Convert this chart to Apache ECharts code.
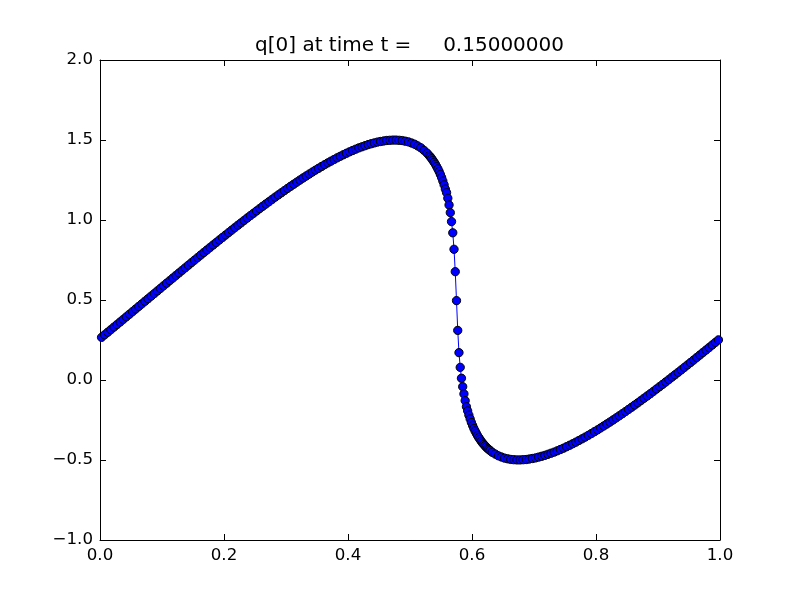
<!DOCTYPE html>
<html>
<head>
<meta charset="utf-8">
<script src="https://cdn.jsdelivr.net/npm/echarts@6/dist/echarts.min.js"></script>
<style>html,body{margin:0;padding:0;background:#fff}#c{width:800px;height:600px}</style>
</head>
<body>
<div id="c"></div>
<script>
const titleText = 'q[0] at time t =     0.15000000';
const xTickValues = [0.0, 0.2, 0.4, 0.6, 0.8, 1.0];
const yTickValues = [-1.0, -0.5, 0.0, 0.5, 1.0, 1.5, 2.0];

const xs = [
0.0025,0.0075,0.0125,0.0175,0.0225,0.0275,0.0325,0.0375,0.0425,0.0475,
0.0525,0.0575,0.0625,0.0675,0.0725,0.0775,0.0825,0.0875,0.0925,0.0975,
0.1025,0.1075,0.1125,0.1175,0.1225,0.1275,0.1325,0.1375,0.1425,0.1475,
0.1525,0.1575,0.1625,0.1675,0.1725,0.1775,0.1825,0.1875,0.1925,0.1975,
0.2025,0.2075,0.2125,0.2175,0.2225,0.2275,0.2325,0.2375,0.2425,0.2475,
0.2525,0.2575,0.2625,0.2675,0.2725,0.2775,0.2825,0.2875,0.2925,0.2975,
0.3025,0.3075,0.3125,0.3175,0.3225,0.3275,0.3325,0.3375,0.3425,0.3475,
0.3525,0.3575,0.3625,0.3675,0.3725,0.3775,0.3825,0.3875,0.3925,0.3975,
0.4025,0.4075,0.4125,0.4175,0.4225,0.4275,0.4325,0.4375,0.4425,0.4475,
0.4525,0.4575,0.4625,0.4675,0.4725,0.4775,0.4825,0.4875,0.4925,0.4975,
0.5025,0.5075,0.5125,0.5175,0.5225,0.5275,
0.531,0.533,0.535,0.537,0.539,0.541,0.543,0.545,0.547,0.549,
0.551,0.553,0.555,0.557,0.559,0.561,0.563,0.565,0.567,0.569,
0.571,0.573,0.575,0.577,0.579,0.581,0.583,0.585,0.587,0.589,
0.591,0.593,0.595,0.597,0.599,0.601,0.603,0.605,0.607,0.609,
0.611,0.613,0.615,0.617,0.619,0.621,0.623,0.625,0.627,0.629,
0.6325,0.6375,0.6425,0.6475,0.6525,0.6575,0.6625,0.6675,0.6725,0.6775,
0.6825,0.6875,0.6925,0.6975,0.7025,0.7075,0.7125,0.7175,0.7225,0.7275,
0.7325,0.7375,0.7425,0.7475,0.7525,0.7575,0.7625,0.7675,0.7725,0.7775,
0.7825,0.7875,0.7925,0.7975,0.8025,0.8075,0.8125,0.8175,0.8225,0.8275,
0.8325,0.8375,0.8425,0.8475,0.8525,0.8575,0.8625,0.8675,0.8725,0.8775,
0.8825,0.8875,0.8925,0.8975,0.9025,0.9075,0.9125,0.9175,0.9225,0.9275,
0.9325,0.9375,0.9425,0.9475,0.9525,0.9575,0.9625,0.9675,0.9725,0.9775,
0.9825,0.9875,0.9925,0.9975
];

const q0 = [
0.2666,0.2826,0.2986,0.3146,0.3306,0.3467,0.3628,0.3789,0.3950,0.4111,
0.4273,0.4434,0.4596,0.4758,0.4919,0.5081,0.5242,0.5404,0.5566,0.5727,
0.5889,0.6050,0.6211,0.6372,0.6533,0.6694,0.6854,0.7014,0.7174,0.7334,
0.7492,0.7651,0.7810,0.7968,0.8126,0.8283,0.8439,0.8595,0.8752,0.8907,
0.9060,0.9214,0.9368,0.9522,0.9672,0.9823,0.9973,1.0124,1.0273,1.0419,
1.0565,1.0712,1.0858,1.1001,1.1142,1.1284,1.1426,1.1565,1.1701,1.1837,
1.1974,1.2108,1.2238,1.2368,1.2498,1.2627,1.2750,1.2873,1.2996,1.3117,
1.3231,1.3346,1.3460,1.3571,1.3676,1.3781,1.3886,1.3983,1.4077,1.4171,
1.4262,1.4344,1.4426,1.4508,1.4576,1.4644,1.4712,1.4767,1.4818,1.4870,
1.4906,1.4939,1.4970,1.4982,1.4994,1.4994,1.4981,1.4965,1.4924,1.4882,
1.4812,1.4737,1.4629,1.4514,1.4354,1.4177,
1.4026,1.3939,1.3833,1.3720,1.3606,1.3482,1.3336,1.3189,1.3030,1.2843,
1.2656,1.2434,1.2198,1.1932,1.171,1.136,1.094,1.046,0.99,0.92,
0.817,0.677,0.496,0.31,0.171,0.079,0.011,-0.042,-0.087,-0.129,
-0.167,-0.1932,-0.2197,-0.2433,-0.2656,-0.2843,-0.3030,-0.3189,-0.3336,-0.3482,
-0.3606,-0.3720,-0.3833,-0.3938,-0.4025,-0.4112,-0.4199,-0.4274,-0.4338,-0.4403,
-0.4514,-0.4629,-0.4737,-0.4812,-0.4882,-0.4924,-0.4965,-0.4981,-0.4994,-0.4994,
-0.4982,-0.4970,-0.4939,-0.4906,-0.4870,-0.4818,-0.4767,-0.4712,-0.4644,-0.4576,
-0.4508,-0.4426,-0.4344,-0.4262,-0.4171,-0.4077,-0.3983,-0.3886,-0.3781,-0.3676,
-0.3571,-0.3460,-0.3346,-0.3231,-0.3117,-0.2996,-0.2873,-0.2750,-0.2627,-0.2498,
-0.2368,-0.2238,-0.2108,-0.1974,-0.1838,-0.1701,-0.1565,-0.1426,-0.1284,-0.1142,
-0.1001,-0.0858,-0.0712,-0.0565,-0.0419,-0.0273,-0.0123,0.0027,0.0178,0.0328,
0.0479,0.0632,0.0786,0.0940,0.1093,0.1248,0.1405,0.1561,0.1718,0.1874,
0.2032,0.2190,0.2349,0.2508
];

const FONT = 'DejaVu Sans';
const fmt = v => (v < 0 ? '\u2212' : '') + Math.abs(v).toFixed(1);
const xMin = xTickValues[0], xMax = xTickValues[xTickValues.length - 1];
const yMin = yTickValues[0], yMax = yTickValues[yTickValues.length - 1];
const xInt = xTickValues[1] - xTickValues[0];
const yInt = yTickValues[1] - yTickValues[0];

const lineAxis = { show: true, onZero: false, lineStyle: { color: '#000', width: 1 } };
const tick = { show: true, inside: true, length: 6, lineStyle: { color: '#000', width: 1 } };

const chart = echarts.init(document.getElementById('c'), null, { renderer: 'canvas' });
chart.setOption({
  animation: false,
  backgroundColor: '#fff',
  grid: { left: 100, top: 60, width: 620, height: 480, show: false },
  graphic: [{
    type: 'text', left: 410 - 155, top: 36,
    style: { text: titleText, font: '20px "DejaVu Sans"', fill: '#000' }
  }],
  xAxis: [
    { type: 'value', position: 'bottom', min: xMin, max: xMax, interval: xInt,
      axisLine: lineAxis, axisTick: tick, splitLine: { show: false },
      axisLabel: { show: true, margin: 7, color: '#000', fontFamily: FONT, fontSize: 16.67, formatter: fmt } },
    { type: 'value', position: 'top', min: xMin, max: xMax, interval: xInt,
      axisLine: lineAxis, axisTick: tick, splitLine: { show: false }, axisLabel: { show: false } }
  ],
  yAxis: [
    { type: 'value', position: 'left', min: yMin, max: yMax, interval: yInt,
      axisLine: lineAxis, axisTick: tick, splitLine: { show: false },
      axisLabel: { show: true, margin: 7, color: '#000', fontFamily: FONT, fontSize: 16.67, formatter: fmt } },
    { type: 'value', position: 'right', min: yMin, max: yMax, interval: yInt,
      axisLine: lineAxis, axisTick: tick, splitLine: { show: false }, axisLabel: { show: false } }
  ],
  series: [{
    type: 'line',
    xAxisIndex: 0, yAxisIndex: 0,
    data: xs.map((x, i) => [x, q0[i]]),
    symbol: 'circle', symbolSize: 8.3, showSymbol: true,
    lineStyle: { color: '#0000ff', width: 1 },
    itemStyle: { color: '#0000ff', borderColor: '#000', borderWidth: 1 },
    emphasis: { disabled: true },
    silent: true, clip: false
  }]
});
</script>
</body>
</html>
